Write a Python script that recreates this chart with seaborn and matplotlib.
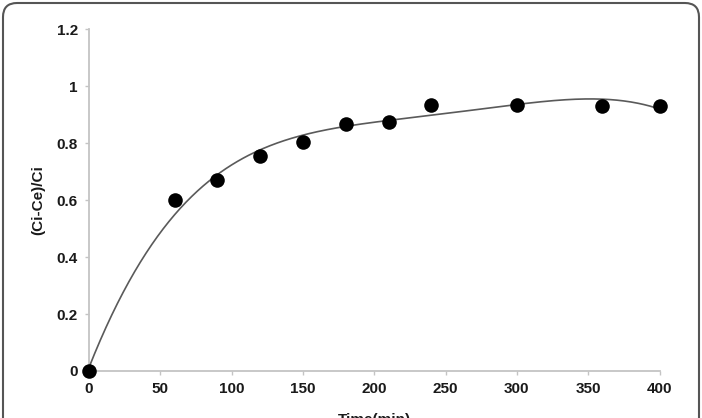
import numpy as np
import pandas as pd
import matplotlib
matplotlib.use("Agg")
import matplotlib.pyplot as plt
import seaborn as sns
from matplotlib.patches import FancyBboxPatch

time_min = [0, 60, 90, 120, 150, 180, 210, 240, 300, 360, 400]
removal = [0.0, 0.60, 0.67, 0.755, 0.805, 0.868, 0.876, 0.933, 0.933, 0.932, 0.932]
trend_degree = 4  # polynomial trendline fitted to the measured points
x_ticks = [0, 50, 100, 150, 200, 250, 300, 350, 400]
y_ticks = [0, 0.2, 0.4, 0.6, 0.8, 1.0, 1.2]
y_tick_labels = ["0", "0.2", "0.4", "0.6", "0.8", "1", "1.2"]

sns.set_theme(style="white")
plt.rcParams['font.family'] = ['Liberation Sans', 'DejaVu Sans']

df = pd.DataFrame({"t": time_min, "r": removal})

fig = plt.figure(figsize=(7.02, 4.18), dpi=100)
ax = fig.add_axes([89/702, 1-371/418, (659.5-89)/702, (371-29.3)/418])

coef = np.polyfit(time_min, removal, trend_degree)
tt = np.linspace(min(time_min), max(time_min), 401)
trend = pd.DataFrame({"t": tt, "r": np.polyval(coef, tt)})
sns.lineplot(data=trend, x="t", y="r", ax=ax, color="#5a5a5a", lw=1.2, zorder=3)

sns.scatterplot(data=df, x="t", y="r", ax=ax, s=110, color="black",
                edgecolor="black", linewidth=0, clip_on=False, zorder=5)

ax.set_xlim(0, 400)
ax.set_ylim(0, 1.2)
ax.set_xticks(x_ticks)
ax.set_xticklabels([str(v) for v in x_ticks])
ax.set_yticks(y_ticks)
ax.set_yticklabels(y_tick_labels)
for s in ["top", "right"]:
    ax.spines[s].set_visible(False)
for s in ["left", "bottom"]:
    ax.spines[s].set_color("#c4c4c4")
    ax.spines[s].set_linewidth(1.3)
ax.tick_params(axis="both", direction="out", length=3, width=1, color="#c4c4c4",
               labelsize=11, labelcolor="#1a1a1a", pad=5, bottom=True, left=True)
for lab in ax.get_xticklabels() + ax.get_yticklabels():
    lab.set_fontweight("bold")
ax.set_xlabel("Time(min)", fontsize=11, fontweight="bold", color="#1a1a1a", labelpad=12)
ax.set_ylabel("(Ci-Ce)/Ci", fontsize=11, fontweight="bold", color="#1a1a1a", labelpad=8)
ax.grid(False)

border = FancyBboxPatch((3/702, -0.1), 696/702, 1-3/418+0.1,
                        boxstyle="round,pad=0,rounding_size=0.02",
                        transform=fig.transFigure, fill=False,
                        edgecolor="#555555", linewidth=1.5, clip_on=False,
                        mutation_aspect=702/418)
fig.patches.append(border)

fig.savefig("out.png", dpi=100)
